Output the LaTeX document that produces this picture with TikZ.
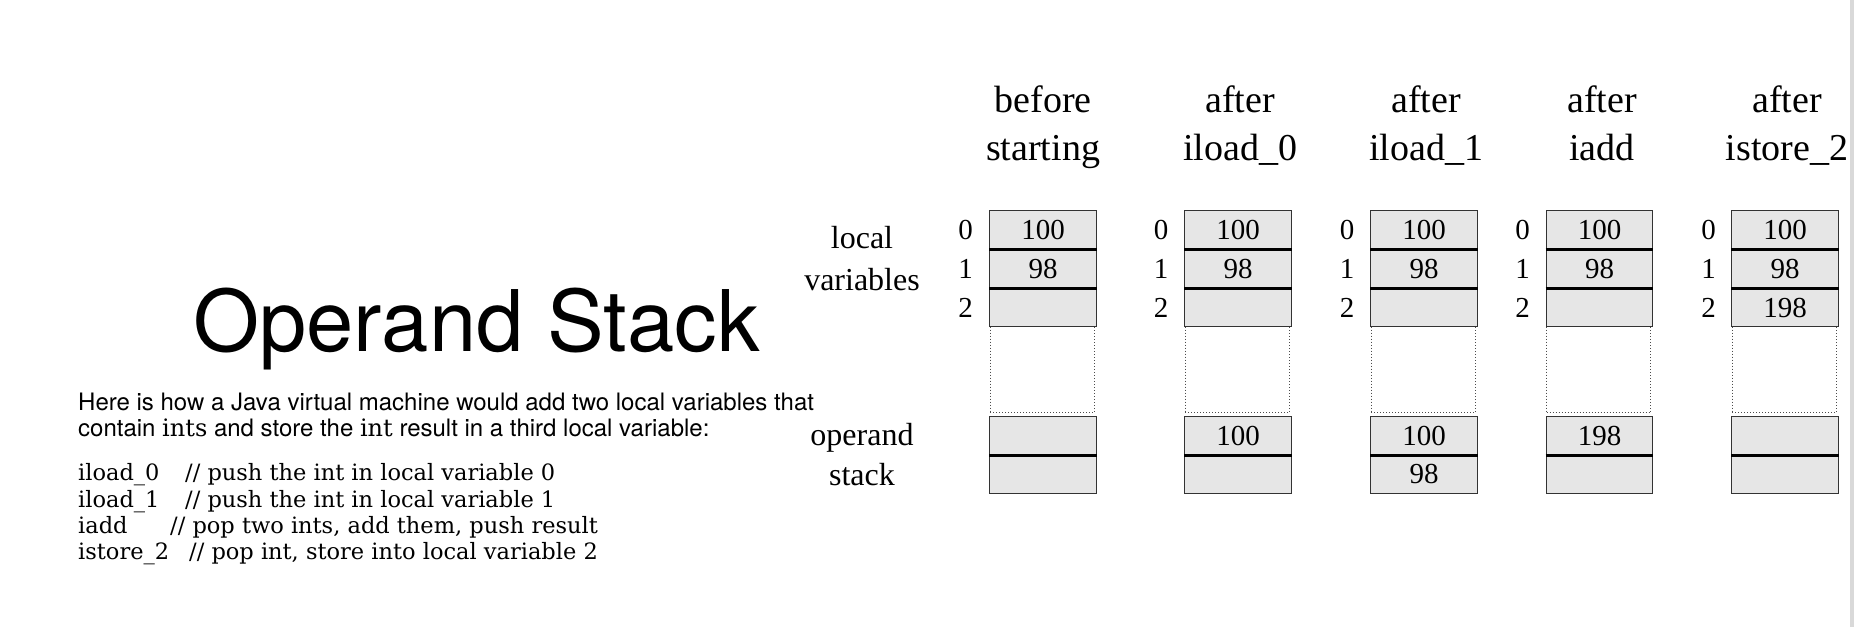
\documentclass[tikz,border=0pt]{standalone}
\usepackage{fontspec}
\setmainfont{Liberation Serif}
\newfontfamily\helv{TeX Gyre Heros}
\newfontfamily\typew{DejaVu Serif}
\definecolor{cellgray}{HTML}{E6E6E6}
\newcommand\fs[1]{\fontsize{#1}{#1}\selectfont}

\begin{document}
\begin{tikzpicture}[x=1pt,y=-1pt,
  cell/.style={draw=black!80, fill=cellgray, line width=1.2pt, minimum width=106.5pt,
    minimum height=38.7pt, inner sep=0pt, font=\fs{29}},
  gap/.style={draw=black!70, dotted, line width=1pt, minimum width=104pt,
    minimum height=86pt, inner sep=0pt},
  sep/.style={line width=3pt, black},
  idx/.style={font=\fs{29}, inner sep=0pt},
  head/.style={font=\fs{38}, anchor=base, inner sep=0pt},
  lbl/.style={font=\fs{32}, anchor=base, inner sep=0pt},
  txt/.style={font=\helv\fs{24}, anchor=base west, inner sep=0pt},
  code/.style={font=\typew\fs{22.5}, anchor=base west, inner sep=0pt}]
\useasboundingbox (0,0) rectangle (1856,627);
\fill[black!15] (1850,0) rectangle (1853.5,627);

\node (title) [font=\helv\fs{85}, anchor=base west, inner sep=0pt] at (193,351) {Operand Stack};

\node[txt] (p1) at (78,410) {Here is how a Java virtual machine would add two local variables that};
\node[txt] (p2) at (78,436) {contain {\typew ints} and store the {\typew int} result in a third local variable:};

\node[code] (l1) at (78,480.5) {\makebox[107pt][l]{iload\_0}// push the int in local variable 0};
\node[code] (l2) at (78,507.5) {\makebox[107pt][l]{iload\_1}// push the int in local variable 1};
\node[code] (l3) at (78,533.5) {\makebox[92pt][l]{iadd}// pop two ints, add them, push result};
\node[code] (l4) at (78,559) {\makebox[111pt][l]{istore\_2}// pop int, store into local variable 2};

\node[lbl] (loc1) at (862,248) {local};
\node[lbl] (loc2) at (862,290) {variables};
\node[lbl] (ops1) at (862,445) {operand};
\node[lbl] (ops2) at (862,485) {stack};

\node[head] (h1a) at (1043,112) {before};
\node[head] (h1b) at (1043,160) {starting};
\node[head] (h2a) at (1240,112) {after};
\node[head] (h2b) at (1240,160) {iload\_0};
\node[head] (h3a) at (1426,112) {after};
\node[head] (h3b) at (1426,160) {iload\_1};
\node[head] (h4a) at (1602,112) {after};
\node[head] (h4b) at (1602,160) {iadd};
\node[head] (h5a) at (1787,112) {after};
\node[head] (h5b) at (1787,160) {istore\_2};

% before starting
\node[gap] (1g) at (1042,369.7) {};
\node[cell] (10) at (1043,230) {100};
\node[cell] (11) at (1043,268.8) {98};
\node[cell] (12) at (1043,307.5) {};
\node[cell] (13) at (1043,435.5) {};
\node[cell] (14) at (1043,473.9) {};
\node[idx] (i10) at (965.5,230) {0};
\node[idx] (i11) at (965.5,268.8) {1};
\node[idx] (i12) at (965.5,307.5) {2};

% after iload_0
\node[gap] (2g) at (1237,369.7) {};
\node[cell] (20) at (1238,230) {100};
\node[cell] (21) at (1238,268.8) {98};
\node[cell] (22) at (1238,307.5) {};
\node[cell] (23) at (1238,435.5) {100};
\node[cell] (24) at (1238,473.9) {};
\node[idx] (i20) at (1161,230) {0};
\node[idx] (i21) at (1161,268.8) {1};
\node[idx] (i22) at (1161,307.5) {2};

% after iload_1
\node[gap] (3g) at (1423,369.7) {};
\node[cell] (30) at (1424,230) {100};
\node[cell] (31) at (1424,268.8) {98};
\node[cell] (32) at (1424,307.5) {};
\node[cell] (33) at (1424,435.5) {100};
\node[cell] (34) at (1424,473.9) {98};
\node[idx] (i30) at (1347,230) {0};
\node[idx] (i31) at (1347,268.8) {1};
\node[idx] (i32) at (1347,307.5) {2};

% after iadd
\node[gap] (4g) at (1598.5,369.7) {};
\node[cell] (40) at (1599.5,230) {100};
\node[cell] (41) at (1599.5,268.8) {98};
\node[cell] (42) at (1599.5,307.5) {};
\node[cell] (43) at (1599.5,435.5) {198};
\node[cell] (44) at (1599.5,473.9) {};
\node[idx] (i40) at (1522.5,230) {0};
\node[idx] (i41) at (1522.5,268.8) {1};
\node[idx] (i42) at (1522.5,307.5) {2};

% after istore_2
\node[gap] (5g) at (1784,369.7) {};
\node[cell] (50) at (1785,230) {100};
\node[cell] (51) at (1785,268.8) {98};
\node[cell] (52) at (1785,307.5) {198};
\node[cell] (53) at (1785,435.5) {};
\node[cell] (54) at (1785,473.9) {};
\node[idx] (i50) at (1708.5,230) {0};
\node[idx] (i51) at (1708.5,268.8) {1};
\node[idx] (i52) at (1708.5,307.5) {2};

\draw[sep] (10.south west) -- (10.south east) (11.south west) -- (11.south east)
  (13.south west) -- (13.south east);
\draw[sep] (20.south west) -- (20.south east) (21.south west) -- (21.south east)
  (23.south west) -- (23.south east);
\draw[sep] (30.south west) -- (30.south east) (31.south west) -- (31.south east)
  (33.south west) -- (33.south east);
\draw[sep] (40.south west) -- (40.south east) (41.south west) -- (41.south east)
  (43.south west) -- (43.south east);
\draw[sep] (50.south west) -- (50.south east) (51.south west) -- (51.south east)
  (53.south west) -- (53.south east);
\end{tikzpicture}
\end{document}
